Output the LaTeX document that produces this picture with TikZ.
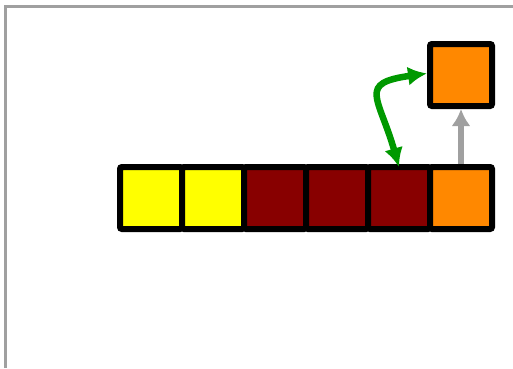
\documentclass[tikz,border=0pt]{standalone}
\usepackage{tikz}
\usetikzlibrary{arrows.meta, positioning}
\definecolor{cellyellow}{RGB}{255, 255, 0}
\definecolor{cellred}{RGB}{136, 0, 0}
\definecolor{cellorange}{RGB}{255, 136, 0}
\definecolor{swapgreen}{RGB}{0, 153, 0}
\definecolor{framegray}{RGB}{160, 160, 160}

\begin{document}
\begin{tikzpicture}[
        x=1pt, y=1pt,
        node distance=0pt,
        cell/.style={rectangle, draw=black, line width=6pt, minimum size=62pt, inner sep=0pt, outer sep=0pt, rounded corners=2pt},
        swaparrow/.style={{Latex[length=19pt,width=19pt]}-{Latex[length=19pt,width=19pt]}, line width=6.5pt, draw=swapgreen},
        liftarrow/.style={-{Latex[length=17pt,width=19pt]}, line width=6.5pt, draw=framegray, shorten <=3pt, shorten >=3pt}
    ]
        \useasboundingbox (0,0) rectangle (513,-368);
        \draw[framegray, line width=2.5pt] (5.5,-368) -- (5.5,-6.5) -- (513,-6.5);

        \node[cell, fill=cellyellow] (c1) at (151,-198) {};
        \node[cell, fill=cellyellow, right=of c1] (c2) {};
        \node[cell, fill=cellred, right=of c2] (c3) {};
        \node[cell, fill=cellred, right=of c3] (c4) {};
        \node[cell, fill=cellred, right=of c4] (c5) {};
        \node[cell, fill=cellorange, right=of c5] (c6) {};
        \node[cell, fill=cellorange, above=61pt of c6] (top) {};

        \draw[liftarrow] (c6.north) -- (top.south);
        \draw[swaparrow, shorten >=3pt] (c5.north) to[out=106, in=188, looseness=1.9] ([yshift=2pt]top.west);
    \end{tikzpicture}
\end{document}
